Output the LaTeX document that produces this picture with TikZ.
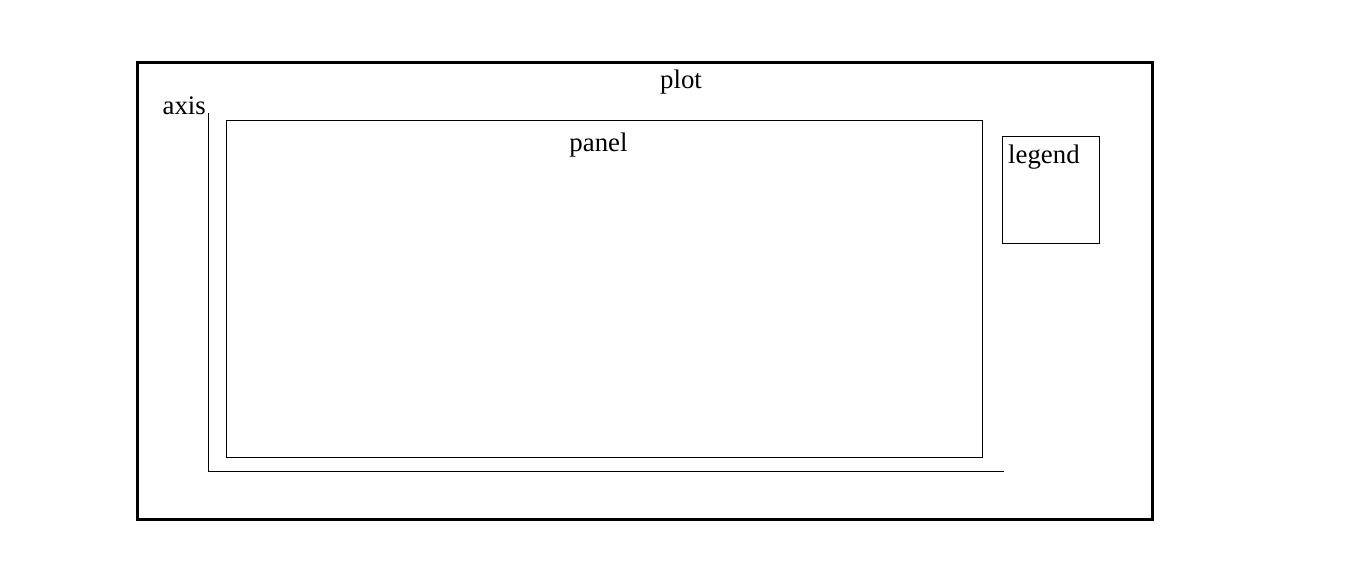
\documentclass[tikz,border=0pt]{standalone}
\usepackage{fontspec}
\setmainfont{Liberation Serif}
\begin{document}
\begin{tikzpicture}[x=1pt,y=-1pt,
  lbl/.style={font=\fontsize{26.8}{30}\selectfont, inner sep=0pt, anchor=base},
  thinbox/.style={draw, line width=1pt}]
\useasboundingbox (0,0) rectangle (1349,562);
\coordinate (pnw) at (137.5,62.5);
\coordinate (pse) at (1152.5,519.5);
\draw[line width=3pt] (pnw) rectangle (pse);
\node[lbl] (plotlbl) at (681,88) {plot};
\coordinate (atop) at (208,113);
\coordinate (acorner) at (208,471);
\coordinate (aright) at (1004,471);
\draw[line width=1pt] (atop) -- (acorner) -- (aright);
\node[lbl, anchor=base east] (axislbl) at (206,114) {axis};
\node[thinbox, minimum width=756pt, minimum height=337pt, anchor=north west, inner sep=0pt] (panel) at (226,120) {};
\node[lbl] (panellbl) at (598.5,151) {panel};
\node[thinbox, minimum width=97pt, minimum height=107pt, anchor=north west, inner sep=0pt] (legend) at (1002,136) {};
\node[lbl, anchor=base west] (legendlbl) at (1008,163) {legend};
\end{tikzpicture}
\end{document}
